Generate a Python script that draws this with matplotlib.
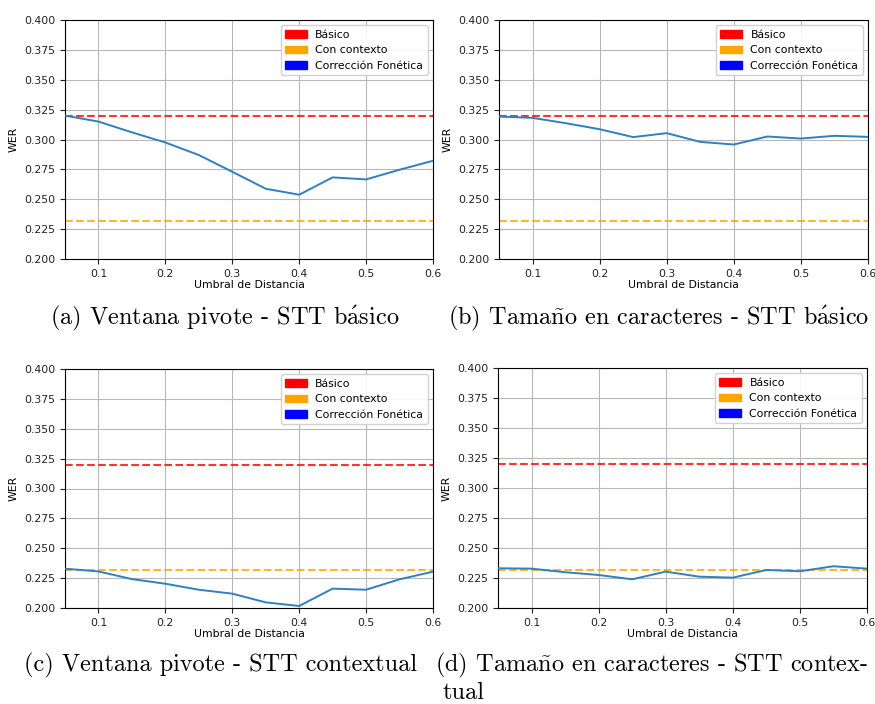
import matplotlib
matplotlib.use("Agg")
import matplotlib.pyplot as plt
import matplotlib.patches as mpatches
import numpy as np

plt.rcParams['mathtext.fontset'] = 'cm'

thresholds = [0.05, 0.10, 0.15, 0.20, 0.25, 0.30, 0.35, 0.40, 0.45, 0.50, 0.55, 0.60]
wer_a = [0.320, 0.315, 0.306, 0.2975, 0.287, 0.273, 0.2588, 0.2538, 0.2683, 0.2666, 0.2747, 0.2822]
wer_b = [0.3192, 0.3181, 0.3136, 0.3086, 0.302, 0.3053, 0.298, 0.2958, 0.3025, 0.3008, 0.3031, 0.3022]
wer_c = [0.2329, 0.2306, 0.2242, 0.2203, 0.2153, 0.212, 0.2047, 0.2017, 0.2162, 0.2153, 0.224, 0.2304]
wer_d = [0.2331, 0.2328, 0.2298, 0.2275, 0.2239, 0.2303, 0.2261, 0.2253, 0.2317, 0.2306, 0.2348, 0.2328]
baseline_basic = 0.320
baseline_context = 0.232

legend_labels = ["Básico", "Con contexto", "Corrección Fonética"]
legend_colors = ["red", "orange", "blue"]

captions = [
    "(a) Ventana pivote - STT b$\\mathrm{\\acute{a}}$sico",
    "(b) Tama$\\mathrm{\\tilde{n}}$o en caracteres - STT b$\\mathrm{\\acute{a}}$sico",
    "(c) Ventana pivote - STT contextual",
    "(d) Tama$\\mathrm{\\tilde{n}}$o en caracteres - STT contex-",
]

W, H = 875, 704
fig = plt.figure(figsize=(W / 100, H / 100), dpi=100)

# axes boxes in pixels: left, top, right, bottom
boxes = [(65, 20, 433, 259), (499, 20, 868, 259), (65, 369, 433, 608), (498, 368, 867, 608)]
series = [wer_a, wer_b, wer_c, wer_d]
fs = 7.8

for (l, t, r, b), y in zip(boxes, series):
    ax = fig.add_axes([l / W, (H - b) / H, (r - l) / W, (b - t) / H])
    ax.plot(thresholds, y, color='#2f80bf', lw=1.4, zorder=3)
    ax.axhline(baseline_basic, color='red', ls='--', lw=1.5, alpha=0.8, zorder=2)
    ax.axhline(baseline_context, color='orange', ls='--', lw=1.5, alpha=0.8, zorder=2)
    ax.set_xlim(0.05, 0.6)
    ax.set_ylim(0.2, 0.4)
    ax.set_xticks([0.1, 0.2, 0.3, 0.4, 0.5, 0.6])
    ax.set_xticklabels(["0.1", "0.2", "0.3", "0.4", "0.5", "0.6"])
    ax.set_yticks(np.arange(0.2, 0.4001, 0.025))
    ax.set_yticklabels([f"{v:.3f}" for v in np.arange(0.2, 0.4001, 0.025)])
    ax.tick_params(labelsize=fs, colors='#222222')
    ax.grid(True, color='#b8b8b8', lw=0.8)
    ax.set_xlabel("Umbral de Distancia", fontsize=fs, labelpad=1)
    ax.set_ylabel("WER", fontsize=fs)
    handles = [mpatches.Patch(color=c, label=lab) for c, lab in zip(legend_colors, legend_labels)]
    ax.legend(handles=handles, loc='upper right', fontsize=fs, framealpha=0.9)

cap_kw = dict(fontsize=17.5, family='cmr10', ha='center', va='center')
fig.text(225 / W, 1 - 318 / H, captions[0], **cap_kw)
fig.text(659 / W, 1 - 318 / H, captions[1], **cap_kw)
fig.text(221 / W, 1 - 665 / H, captions[2], **cap_kw)
fig.text(652 / W, 1 - 665 / H, captions[3], **cap_kw)
fig.text(443 / W, 1 - 693 / H, "tual", fontsize=17.5, family='cmr10', ha='left', va='center')

fig.savefig("out.png", dpi=100)
